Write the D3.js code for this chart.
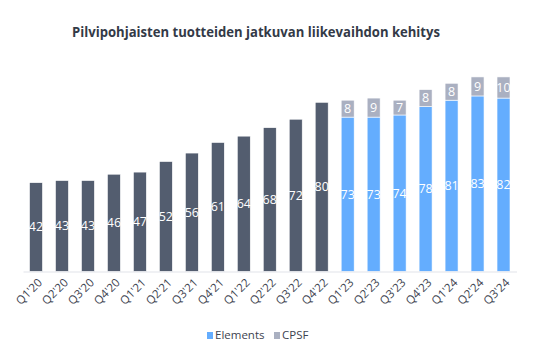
<!DOCTYPE html>
<html>
<head>
<meta charset="utf-8">
<script src="https://cdn.jsdelivr.net/npm/d3@7"></script>
<style>
  body { margin: 0; background: #fff; }
  text { font-family: "Open Sans", Lato, sans-serif; }
</style>
</head>
<body>
<script>
// data
const quarters = ["Q1'20","Q2'20","Q3'20","Q4'20","Q1'21","Q2'21","Q3'21","Q4'21","Q1'22","Q2'22","Q3'22","Q4'22",
                  "Q1'23","Q2'23","Q3'23","Q4'23","Q1'24","Q2'24","Q3'24"];
const total = [42,43,43,46,47,52,56,61,64,68,72,80,null,null,null,null,null,null,null];
const elements = [null,null,null,null,null,null,null,null,null,null,null,null,73,73,74,78,81,83,82];
const cpsf = [null,null,null,null,null,null,null,null,null,null,null,null,8,9,7,8,8,9,10];

const W = 542, H = 363;
const svg = d3.select("body").append("svg").attr("width", W).attr("height", H);

const x = d3.scaleBand().domain(quarters).range([23, 516.5]).paddingInner(0.5).paddingOuter(0.25);
const y = d3.scaleLinear().domain([0, 100]).range([271.5, 60]);

svg.append("text")
  .attr("x", 256).attr("y", 37)
  .attr("text-anchor", "middle")
  .attr("textLength", 368).attr("lengthAdjust", "spacingAndGlyphs")
  .style("font-size", "13.5px").style("font-weight", "bold").style("fill", "#333a47")
  .text("Pilvipohjaisten tuotteiden jatkuvan liikevaihdon kehitys");

const rows = quarters.map((q, i) => ({ q: q, total: total[i], el: elements[i], cp: cpsf[i] }));

// segments
const segs = [];
rows.forEach(d => {
  if (d.total != null) segs.push({ q: d.q, y0: 0, y1: d.total, v: d.total, color: "#535d6f" });
  if (d.el != null) {
    segs.push({ q: d.q, y0: 0, y1: d.el, v: d.el, color: "#64adfe" });
    segs.push({ q: d.q, y0: d.el, y1: d.el + d.cp, v: d.cp, color: "#aab0c1" });
  }
});

svg.append("g").selectAll("rect").data(segs).enter().append("rect")
  .attr("x", d => x(d.q))
  .attr("width", x.bandwidth())
  .attr("y", d => y(d.y1))
  .attr("height", d => y(d.y0) - y(d.y1))
  .attr("fill", d => d.color)
  .attr("stroke", "#fff").attr("stroke-width", 0.6);

svg.append("g").selectAll("text").data(segs).enter().append("text")
  .attr("x", d => x(d.q) + x.bandwidth() / 2)
  .attr("y", d => (y(d.y0) + y(d.y1)) / 2)
  .attr("dy", "0.35em")
  .attr("text-anchor", "middle")
  .style("font-size", "12.5px").style("fill", "#fff")
  .text(d => d.v);

// axis
const axis = svg.append("g").attr("transform", "translate(0,271.5)")
  .call(d3.axisBottom(x).tickSize(0).tickPadding(0));
axis.select(".domain").attr("stroke", "#e1e4e9").attr("stroke-width", 1.2);
axis.selectAll(".tick text")
  .attr("text-anchor", "end")
  .attr("transform", "translate(4,9) rotate(-45)")
  .attr("dy", "0.35em")
  .style("font-family", "'Open Sans', Lato, sans-serif")
  .style("font-size", "11.5px").style("fill", "#3d4350");

// legend
const legend = [{ name: "Elements", color: "#64adfe", x: 207 }, { name: "CPSF", color: "#aab0c1", x: 274 }];
const lg = svg.append("g").selectAll("g").data(legend).enter().append("g")
  .attr("transform", d => "translate(" + d.x + ",335)");
lg.append("rect").attr("x", 0).attr("y", -3).attr("width", 6).attr("height", 7).attr("fill", d => d.color);
lg.append("text").attr("x", 8).attr("dy", "0.35em")
  .style("font-size", "11.5px").style("fill", "#3d4350")
  .text(d => d.name);
</script>
</body>
</html>
